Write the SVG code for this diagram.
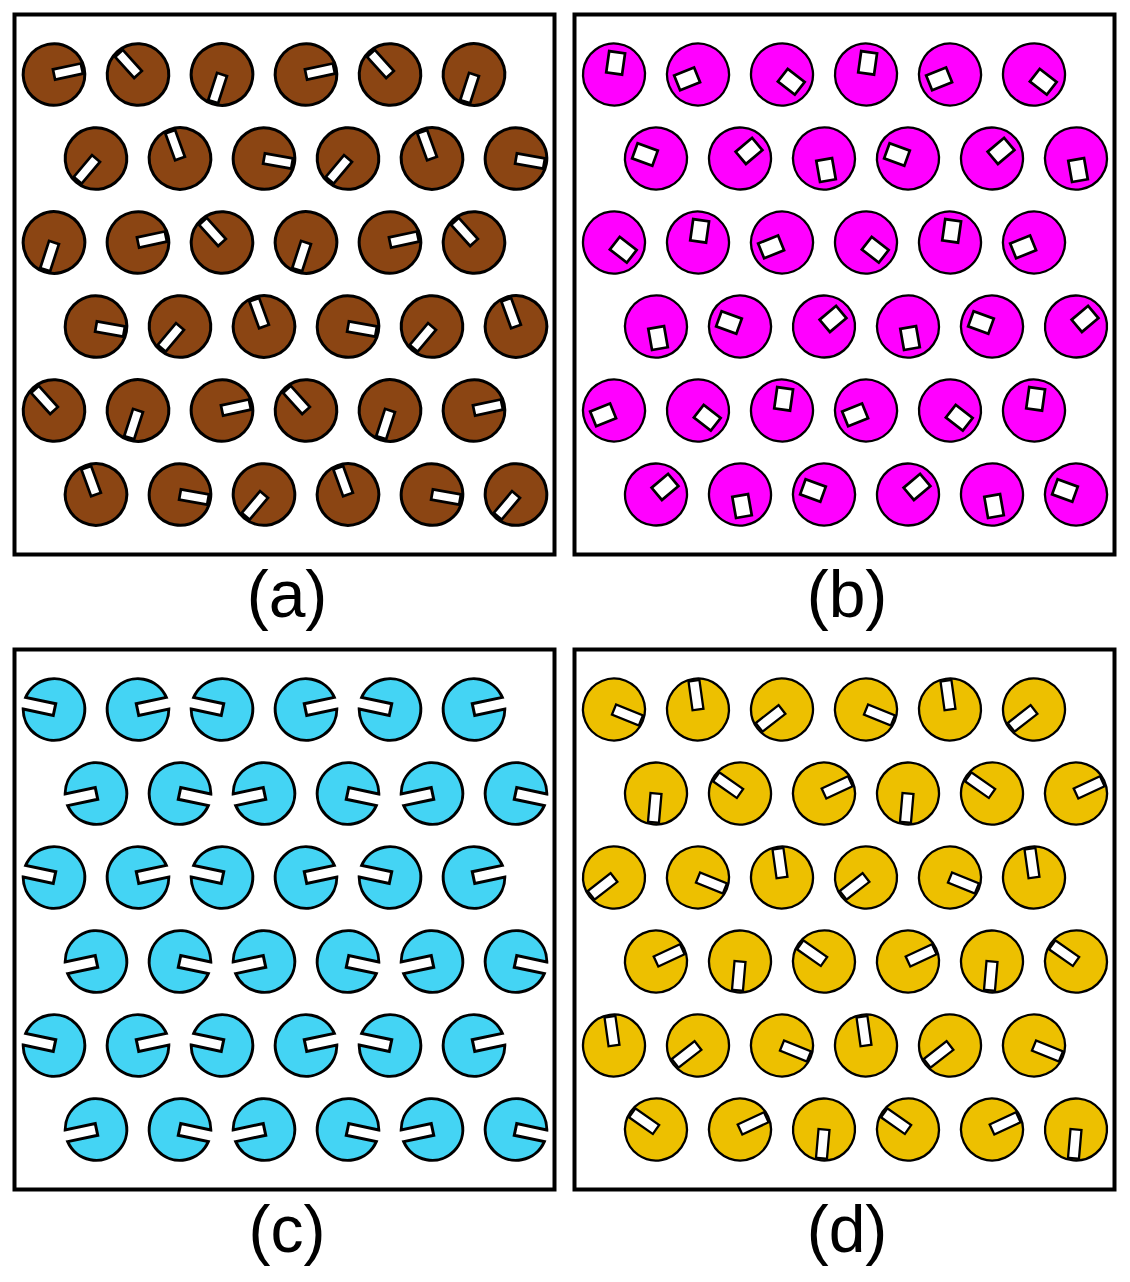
<svg xmlns="http://www.w3.org/2000/svg" width="1130" height="1282" viewBox="0 0 1130 1282">
<style>
.box{fill:#fff;stroke:#000;stroke-width:4}
.lbl{font-family:"Liberation Sans",Arial,sans-serif;font-size:66px;text-anchor:middle;fill:#000}
.slot{fill:#fff;stroke:#000}
</style>
<defs>
<g id="A"><circle r="30.8" fill="#8B4513" stroke="#000" stroke-width="3"/><rect class="slot" x="0" y="-5.2" width="28.5" height="10.4" stroke-width="2.7"/></g>
<g id="B"><circle r="31" fill="#FF00FF" stroke="#000" stroke-width="2.3"/><rect class="slot" x="1" y="-8" width="21.5" height="16" stroke-width="2.7"/></g>
<g id="C"><path d="M30.21,-6 L-0.5,-6 L-0.5,6 L30.21,6 A30.8,30.8 0 1 1 30.21,-6 Z" fill="#44D4F4" stroke="#000" stroke-width="3" stroke-linejoin="miter"/></g>
<g id="D"><circle r="31" fill="#EDC000" stroke="#000" stroke-width="2.3"/><rect class="slot" x="0" y="-5.5" width="29" height="11" stroke-width="2.3"/></g>
</defs>
<rect width="1130" height="1282" fill="#fff"/>
<rect class="box" x="14.5" y="14.5" width="540" height="540"/>
<rect class="box" x="574.5" y="14.5" width="540" height="540"/>
<rect class="box" x="14.5" y="649.5" width="540" height="540"/>
<rect class="box" x="574.5" y="649.5" width="540" height="540"/>
<g id="panel-a">
<g id="a-1-1" transform="translate(54,74.5) rotate(-12)"><use href="#A"/></g>
<g id="a-1-2" transform="translate(138,74.5) rotate(-132)"><use href="#A"/></g>
<g id="a-1-3" transform="translate(222,74.5) rotate(108)"><use href="#A"/></g>
<g id="a-1-4" transform="translate(306,74.5) rotate(-12)"><use href="#A"/></g>
<g id="a-1-5" transform="translate(390,74.5) rotate(-132)"><use href="#A"/></g>
<g id="a-1-6" transform="translate(474,74.5) rotate(108)"><use href="#A"/></g>
<g id="a-2-1" transform="translate(96,158.5) rotate(130)"><use href="#A"/></g>
<g id="a-2-2" transform="translate(180,158.5) rotate(250)"><use href="#A"/></g>
<g id="a-2-3" transform="translate(264,158.5) rotate(10)"><use href="#A"/></g>
<g id="a-2-4" transform="translate(348,158.5) rotate(130)"><use href="#A"/></g>
<g id="a-2-5" transform="translate(432,158.5) rotate(250)"><use href="#A"/></g>
<g id="a-2-6" transform="translate(516,158.5) rotate(10)"><use href="#A"/></g>
<g id="a-3-1" transform="translate(54,242.5) rotate(108)"><use href="#A"/></g>
<g id="a-3-2" transform="translate(138,242.5) rotate(-12)"><use href="#A"/></g>
<g id="a-3-3" transform="translate(222,242.5) rotate(-132)"><use href="#A"/></g>
<g id="a-3-4" transform="translate(306,242.5) rotate(108)"><use href="#A"/></g>
<g id="a-3-5" transform="translate(390,242.5) rotate(-12)"><use href="#A"/></g>
<g id="a-3-6" transform="translate(474,242.5) rotate(-132)"><use href="#A"/></g>
<g id="a-4-1" transform="translate(96,326.5) rotate(10)"><use href="#A"/></g>
<g id="a-4-2" transform="translate(180,326.5) rotate(130)"><use href="#A"/></g>
<g id="a-4-3" transform="translate(264,326.5) rotate(250)"><use href="#A"/></g>
<g id="a-4-4" transform="translate(348,326.5) rotate(10)"><use href="#A"/></g>
<g id="a-4-5" transform="translate(432,326.5) rotate(130)"><use href="#A"/></g>
<g id="a-4-6" transform="translate(516,326.5) rotate(250)"><use href="#A"/></g>
<g id="a-5-1" transform="translate(54,410.5) rotate(-132)"><use href="#A"/></g>
<g id="a-5-2" transform="translate(138,410.5) rotate(108)"><use href="#A"/></g>
<g id="a-5-3" transform="translate(222,410.5) rotate(-12)"><use href="#A"/></g>
<g id="a-5-4" transform="translate(306,410.5) rotate(-132)"><use href="#A"/></g>
<g id="a-5-5" transform="translate(390,410.5) rotate(108)"><use href="#A"/></g>
<g id="a-5-6" transform="translate(474,410.5) rotate(-12)"><use href="#A"/></g>
<g id="a-6-1" transform="translate(96,494.5) rotate(250)"><use href="#A"/></g>
<g id="a-6-2" transform="translate(180,494.5) rotate(10)"><use href="#A"/></g>
<g id="a-6-3" transform="translate(264,494.5) rotate(130)"><use href="#A"/></g>
<g id="a-6-4" transform="translate(348,494.5) rotate(250)"><use href="#A"/></g>
<g id="a-6-5" transform="translate(432,494.5) rotate(10)"><use href="#A"/></g>
<g id="a-6-6" transform="translate(516,494.5) rotate(130)"><use href="#A"/></g>
</g>
<g id="panel-b" transform="translate(560,0)">
<g id="b-1-1" transform="translate(54,74.5) rotate(-82)"><use href="#B"/></g>
<g id="b-1-2" transform="translate(138,74.5) rotate(158)"><use href="#B"/></g>
<g id="b-1-3" transform="translate(222,74.5) rotate(38)"><use href="#B"/></g>
<g id="b-1-4" transform="translate(306,74.5) rotate(-82)"><use href="#B"/></g>
<g id="b-1-5" transform="translate(390,74.5) rotate(158)"><use href="#B"/></g>
<g id="b-1-6" transform="translate(474,74.5) rotate(38)"><use href="#B"/></g>
<g id="b-2-1" transform="translate(96,158.5) rotate(200)"><use href="#B"/></g>
<g id="b-2-2" transform="translate(180,158.5) rotate(320)"><use href="#B"/></g>
<g id="b-2-3" transform="translate(264,158.5) rotate(80)"><use href="#B"/></g>
<g id="b-2-4" transform="translate(348,158.5) rotate(200)"><use href="#B"/></g>
<g id="b-2-5" transform="translate(432,158.5) rotate(320)"><use href="#B"/></g>
<g id="b-2-6" transform="translate(516,158.5) rotate(80)"><use href="#B"/></g>
<g id="b-3-1" transform="translate(54,242.5) rotate(38)"><use href="#B"/></g>
<g id="b-3-2" transform="translate(138,242.5) rotate(-82)"><use href="#B"/></g>
<g id="b-3-3" transform="translate(222,242.5) rotate(158)"><use href="#B"/></g>
<g id="b-3-4" transform="translate(306,242.5) rotate(38)"><use href="#B"/></g>
<g id="b-3-5" transform="translate(390,242.5) rotate(-82)"><use href="#B"/></g>
<g id="b-3-6" transform="translate(474,242.5) rotate(158)"><use href="#B"/></g>
<g id="b-4-1" transform="translate(96,326.5) rotate(80)"><use href="#B"/></g>
<g id="b-4-2" transform="translate(180,326.5) rotate(200)"><use href="#B"/></g>
<g id="b-4-3" transform="translate(264,326.5) rotate(320)"><use href="#B"/></g>
<g id="b-4-4" transform="translate(348,326.5) rotate(80)"><use href="#B"/></g>
<g id="b-4-5" transform="translate(432,326.5) rotate(200)"><use href="#B"/></g>
<g id="b-4-6" transform="translate(516,326.5) rotate(320)"><use href="#B"/></g>
<g id="b-5-1" transform="translate(54,410.5) rotate(158)"><use href="#B"/></g>
<g id="b-5-2" transform="translate(138,410.5) rotate(38)"><use href="#B"/></g>
<g id="b-5-3" transform="translate(222,410.5) rotate(-82)"><use href="#B"/></g>
<g id="b-5-4" transform="translate(306,410.5) rotate(158)"><use href="#B"/></g>
<g id="b-5-5" transform="translate(390,410.5) rotate(38)"><use href="#B"/></g>
<g id="b-5-6" transform="translate(474,410.5) rotate(-82)"><use href="#B"/></g>
<g id="b-6-1" transform="translate(96,494.5) rotate(320)"><use href="#B"/></g>
<g id="b-6-2" transform="translate(180,494.5) rotate(80)"><use href="#B"/></g>
<g id="b-6-3" transform="translate(264,494.5) rotate(200)"><use href="#B"/></g>
<g id="b-6-4" transform="translate(348,494.5) rotate(320)"><use href="#B"/></g>
<g id="b-6-5" transform="translate(432,494.5) rotate(80)"><use href="#B"/></g>
<g id="b-6-6" transform="translate(516,494.5) rotate(200)"><use href="#B"/></g>
</g>
<g id="panel-c" transform="translate(0,635)">
<g id="c-1-1" transform="translate(54,74.5) rotate(192)"><use href="#C"/></g>
<g id="c-1-2" transform="translate(138,74.5) rotate(-12)"><use href="#C"/></g>
<g id="c-1-3" transform="translate(222,74.5) rotate(192)"><use href="#C"/></g>
<g id="c-1-4" transform="translate(306,74.5) rotate(-12)"><use href="#C"/></g>
<g id="c-1-5" transform="translate(390,74.5) rotate(192)"><use href="#C"/></g>
<g id="c-1-6" transform="translate(474,74.5) rotate(-12)"><use href="#C"/></g>
<g id="c-2-1" transform="translate(96,158.5) rotate(168)"><use href="#C"/></g>
<g id="c-2-2" transform="translate(180,158.5) rotate(12)"><use href="#C"/></g>
<g id="c-2-3" transform="translate(264,158.5) rotate(168)"><use href="#C"/></g>
<g id="c-2-4" transform="translate(348,158.5) rotate(12)"><use href="#C"/></g>
<g id="c-2-5" transform="translate(432,158.5) rotate(168)"><use href="#C"/></g>
<g id="c-2-6" transform="translate(516,158.5) rotate(12)"><use href="#C"/></g>
<g id="c-3-1" transform="translate(54,242.5) rotate(192)"><use href="#C"/></g>
<g id="c-3-2" transform="translate(138,242.5) rotate(-12)"><use href="#C"/></g>
<g id="c-3-3" transform="translate(222,242.5) rotate(192)"><use href="#C"/></g>
<g id="c-3-4" transform="translate(306,242.5) rotate(-12)"><use href="#C"/></g>
<g id="c-3-5" transform="translate(390,242.5) rotate(192)"><use href="#C"/></g>
<g id="c-3-6" transform="translate(474,242.5) rotate(-12)"><use href="#C"/></g>
<g id="c-4-1" transform="translate(96,326.5) rotate(168)"><use href="#C"/></g>
<g id="c-4-2" transform="translate(180,326.5) rotate(12)"><use href="#C"/></g>
<g id="c-4-3" transform="translate(264,326.5) rotate(168)"><use href="#C"/></g>
<g id="c-4-4" transform="translate(348,326.5) rotate(12)"><use href="#C"/></g>
<g id="c-4-5" transform="translate(432,326.5) rotate(168)"><use href="#C"/></g>
<g id="c-4-6" transform="translate(516,326.5) rotate(12)"><use href="#C"/></g>
<g id="c-5-1" transform="translate(54,410.5) rotate(192)"><use href="#C"/></g>
<g id="c-5-2" transform="translate(138,410.5) rotate(-12)"><use href="#C"/></g>
<g id="c-5-3" transform="translate(222,410.5) rotate(192)"><use href="#C"/></g>
<g id="c-5-4" transform="translate(306,410.5) rotate(-12)"><use href="#C"/></g>
<g id="c-5-5" transform="translate(390,410.5) rotate(192)"><use href="#C"/></g>
<g id="c-5-6" transform="translate(474,410.5) rotate(-12)"><use href="#C"/></g>
<g id="c-6-1" transform="translate(96,494.5) rotate(168)"><use href="#C"/></g>
<g id="c-6-2" transform="translate(180,494.5) rotate(12)"><use href="#C"/></g>
<g id="c-6-3" transform="translate(264,494.5) rotate(168)"><use href="#C"/></g>
<g id="c-6-4" transform="translate(348,494.5) rotate(12)"><use href="#C"/></g>
<g id="c-6-5" transform="translate(432,494.5) rotate(168)"><use href="#C"/></g>
<g id="c-6-6" transform="translate(516,494.5) rotate(12)"><use href="#C"/></g>
</g>
<g id="panel-d" transform="translate(560,635)">
<g id="d-1-1" transform="translate(54,74.5) rotate(22)"><use href="#D"/></g>
<g id="d-1-2" transform="translate(138,74.5) rotate(-98)"><use href="#D"/></g>
<g id="d-1-3" transform="translate(222,74.5) rotate(142)"><use href="#D"/></g>
<g id="d-1-4" transform="translate(306,74.5) rotate(22)"><use href="#D"/></g>
<g id="d-1-5" transform="translate(390,74.5) rotate(-98)"><use href="#D"/></g>
<g id="d-1-6" transform="translate(474,74.5) rotate(142)"><use href="#D"/></g>
<g id="d-2-1" transform="translate(96,158.5) rotate(95)"><use href="#D"/></g>
<g id="d-2-2" transform="translate(180,158.5) rotate(215)"><use href="#D"/></g>
<g id="d-2-3" transform="translate(264,158.5) rotate(335)"><use href="#D"/></g>
<g id="d-2-4" transform="translate(348,158.5) rotate(95)"><use href="#D"/></g>
<g id="d-2-5" transform="translate(432,158.5) rotate(215)"><use href="#D"/></g>
<g id="d-2-6" transform="translate(516,158.5) rotate(335)"><use href="#D"/></g>
<g id="d-3-1" transform="translate(54,242.5) rotate(142)"><use href="#D"/></g>
<g id="d-3-2" transform="translate(138,242.5) rotate(22)"><use href="#D"/></g>
<g id="d-3-3" transform="translate(222,242.5) rotate(-98)"><use href="#D"/></g>
<g id="d-3-4" transform="translate(306,242.5) rotate(142)"><use href="#D"/></g>
<g id="d-3-5" transform="translate(390,242.5) rotate(22)"><use href="#D"/></g>
<g id="d-3-6" transform="translate(474,242.5) rotate(-98)"><use href="#D"/></g>
<g id="d-4-1" transform="translate(96,326.5) rotate(335)"><use href="#D"/></g>
<g id="d-4-2" transform="translate(180,326.5) rotate(95)"><use href="#D"/></g>
<g id="d-4-3" transform="translate(264,326.5) rotate(215)"><use href="#D"/></g>
<g id="d-4-4" transform="translate(348,326.5) rotate(335)"><use href="#D"/></g>
<g id="d-4-5" transform="translate(432,326.5) rotate(95)"><use href="#D"/></g>
<g id="d-4-6" transform="translate(516,326.5) rotate(215)"><use href="#D"/></g>
<g id="d-5-1" transform="translate(54,410.5) rotate(-98)"><use href="#D"/></g>
<g id="d-5-2" transform="translate(138,410.5) rotate(142)"><use href="#D"/></g>
<g id="d-5-3" transform="translate(222,410.5) rotate(22)"><use href="#D"/></g>
<g id="d-5-4" transform="translate(306,410.5) rotate(-98)"><use href="#D"/></g>
<g id="d-5-5" transform="translate(390,410.5) rotate(142)"><use href="#D"/></g>
<g id="d-5-6" transform="translate(474,410.5) rotate(22)"><use href="#D"/></g>
<g id="d-6-1" transform="translate(96,494.5) rotate(215)"><use href="#D"/></g>
<g id="d-6-2" transform="translate(180,494.5) rotate(335)"><use href="#D"/></g>
<g id="d-6-3" transform="translate(264,494.5) rotate(95)"><use href="#D"/></g>
<g id="d-6-4" transform="translate(348,494.5) rotate(215)"><use href="#D"/></g>
<g id="d-6-5" transform="translate(432,494.5) rotate(335)"><use href="#D"/></g>
<g id="d-6-6" transform="translate(516,494.5) rotate(95)"><use href="#D"/></g>
</g>
<g id="labels">
<text class="lbl" x="287" y="617">(a)</text>
<text class="lbl" x="847" y="617">(b)</text>
<text class="lbl" x="287" y="1252">(c)</text>
<text class="lbl" x="847" y="1252">(d)</text>
</g>
</svg>
